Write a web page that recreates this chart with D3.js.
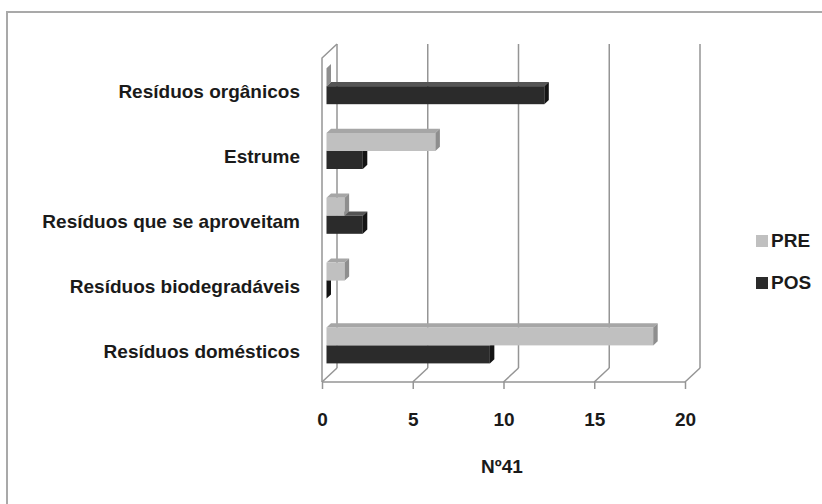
<!DOCTYPE html>
<html><head><meta charset="utf-8">
<script src="https://cdn.jsdelivr.net/npm/d3@7/dist/d3.min.js"></script>
<style>html,body{margin:0;padding:0;background:#fff;}svg{display:block;}</style>
</head><body>
<svg id="chart" width="822" height="504"></svg>
<script>
const categories = ["Resíduos orgânicos","Estrume","Resíduos que se aproveitam","Resíduos biodegradáveis","Resíduos domésticos"];
const seriesNames = ["PRE","POS"];
const preValues = [0, 6, 1, 1, 18];
const posValues = [12, 2, 2, 0, 9];
const xTicks = [0, 5, 10, 15, 20];
const axisTitle = "Nº41";

const FONT = "'Liberation Sans Narrow','Liberation Sans',Arial,sans-serif";
const svg = d3.select("#chart");
const W = 822, H = 504;

// frame
svg.append("rect").attr("x",7).attr("y",12).attr("width",W).attr("height",H)
  .attr("fill","#fff").attr("stroke","#a9a9a9").attr("stroke-width",2);

const x = d3.scaleLinear().domain([0,20]).range([322,685]);
const y = d3.scaleBand().domain(categories).range([58,382]);
const DX = 15, DY = -14;           // full depth offset
const f0 = 0.3, fd = 0.3;          // bar front depth, bar depth fraction
const bx = DX*f0, by = DY*f0, sx = DX*fd, sy = DY*fd;
const barH = 18;

const grid = "#959595";
const g = svg.append("g");
// left wall
g.append("path").attr("d", `M${x(0)},${y.range()[1]}V${y.range()[0]}L${x(0)+DX},${y.range()[0]+DY}`)
  .attr("fill","none").attr("stroke",grid).attr("stroke-width",1.5);
// back gridlines + floor diagonals
xTicks.forEach(t => {
  g.append("line").attr("x1",x(t)+DX).attr("x2",x(t)+DX)
    .attr("y1",y.range()[0]+DY).attr("y2",y.range()[1]+DY)
    .attr("stroke",grid).attr("stroke-width",1.5);
  g.append("line").attr("x1",x(t)).attr("y1",y.range()[1])
    .attr("x2",x(t)+DX).attr("y2",y.range()[1]+DY)
    .attr("stroke",grid).attr("stroke-width",1.5);
});
// front axis with d3 axis
const axisG = svg.append("g").attr("transform",`translate(0,${y.range()[1]})`)
  .call(d3.axisBottom(x).tickValues(xTicks).tickSize(7).tickPadding(24));
axisG.select(".domain").attr("stroke",grid).attr("stroke-width",1.5).attr("d",`M${x(0)},0H${x(20)}`);
axisG.selectAll(".tick line").attr("stroke",grid).attr("stroke-width",1.5);
axisG.selectAll(".tick text").attr("font-family",FONT).attr("font-weight","bold")
  .attr("font-size",19).attr("fill","#1a1a1a").attr("dy","0.71em");

// bars
const colors = {
  PRE: {front:"#c0c0c0", top:"#a6a6a6", side:"#8e8e8e"},
  POS: {front:"#2b2b2b", top:"#555555", side:"#141414"}
};
function bar(cat, v, series, idx) {
  const c = colors[series];
  const mid = y(cat) + y.bandwidth()/2 + by;
  const yt = idx === 0 ? mid - barH : mid;
  const yb = yt + barH;
  const xl = x(0) + bx, xr = x(v) + bx;
  const gg = svg.append("g");
  if (v > 0) {
    gg.append("path").attr("d",`M${xl},${yt}L${xl+sx},${yt+sy}L${xr+sx},${yt+sy}L${xr},${yt}Z`).attr("fill",c.top);
    gg.append("rect").attr("x",xl).attr("y",yt).attr("width",xr-xl).attr("height",barH).attr("fill",c.front);
  }
  gg.append("path").attr("d",`M${xr},${yt}L${xr+sx},${yt+sy}L${xr+sx},${yb+sy}L${xr},${yb}Z`).attr("fill",c.side);
}
categories.forEach((cat,i) => {
  bar(cat, posValues[i], "POS", 1);
  bar(cat, preValues[i], "PRE", 0);
});

// category labels
svg.append("g").selectAll("text").data(categories).join("text")
  .attr("x",300).attr("y",d => y(d)+y.bandwidth()/2+8)
  .attr("text-anchor","end").attr("font-family",FONT).attr("font-weight","bold")
  .attr("font-size",19).attr("fill","#1a1a1a").text(d=>d);

// axis title
svg.append("text").attr("x",502).attr("y",473).attr("text-anchor","middle")
  .attr("font-family",FONT).attr("font-weight","bold").attr("font-size",19)
  .attr("fill","#1a1a1a").text(axisTitle);

// legend
const leg = svg.append("g").selectAll("g").data(seriesNames).join("g")
  .attr("transform",(d,i)=>`translate(756,${235+i*42})`);
leg.append("rect").attr("width",12).attr("height",12).attr("fill",d=>colors[d].front);
leg.append("text").attr("x",15).attr("y",12).attr("font-family",FONT).attr("font-weight","bold")
  .attr("font-size",19).attr("fill","#1a1a1a").text(d=>d);
</script>
</body></html>
